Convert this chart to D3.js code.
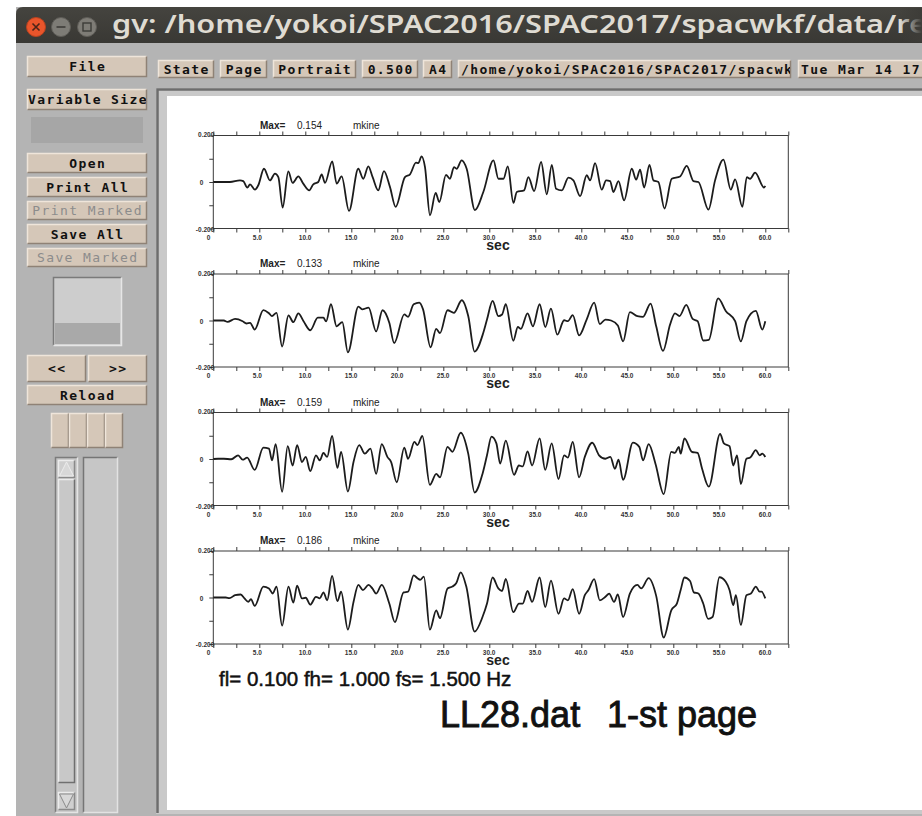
<!doctype html>
<html>
<head>
<meta charset="utf-8">
<script src="https://cdn.jsdelivr.net/npm/d3@7"></script>
<style>
  html, body { margin: 0; padding: 0; background: #fff; }
  svg { display: block; }
  .xw { font-family: "DejaVu Sans Mono", monospace; font-weight: bold; font-size: 13px; letter-spacing: 1.4px; }
  .ps { font-family: "Liberation Sans", Arial, sans-serif; }
</style>
</head>
<body>
<svg id="win" width="922" height="816"></svg>
<script>
// ---- data (time in sec, amplitude in mkine) ----
const timeTicks = d3.range(0, 62.5 + 1e-9, 2.5);
const ampTicks = [-0.2, -0.1, 0, 0.1, 0.2];
const maxLabels = ["0.154", "0.133", "0.159", "0.186"];

const trace1Time = [0,1.81,2.90,3.26,3.70,3.99,4.53,4.89,5.51,6.16,6.70,7.07,7.54,8.15,8.62,9.24,9.78,10.43,10.87,11.41,11.78,12.14,12.93,13.41,13.95,14.75,15.76,16.30,16.85,17.32,17.93,18.55,19.20,19.82,20.83,21.38,22.03,22.28,22.64,23.01,23.55,24.17,24.57,25.29,25.72,26.16,26.45,26.99,27.54,28.44,29.35,30.45,30.99,31.54,32.01,32.62,32.99,33.78,34.25,34.87,35.63,36.25,36.79,37.26,37.88,38.60,39.14,39.87,40.59,40.96,41.50,42.22,42.70,43.13,43.49,44.04,44.65,45.49,45.96,46.39,46.83,47.41,47.84,48.38,49.04,49.83,50.74,51.46,52.19,52.73,53.82,54.54,55.45,56.25,56.72,57.51,57.99,58.35,58.89,59.87,60.0];
const trace1Amp = [0,0,0.007,0.004,-0.024,-0.010,-0.033,-0.014,0.057,0.007,0.036,0.021,-0.110,0.046,-0.004,0.024,-0.007,-0.036,-0.010,0,0.033,-0.004,0.089,-0.007,0.024,-0.124,0.057,0.014,0.067,0.021,-0.036,0.047,-0.021,-0.107,0.021,0.033,0.083,0.081,0.110,0.064,-0.143,-0.047,-0.086,0.031,0.014,0.064,0.057,0.093,0.057,-0.121,-0.043,0.093,0.014,0.014,0.067,-0.090,-0.043,-0.036,0.021,-0.039,0.086,-0.053,0.074,-0.029,-0.036,0.019,0.007,-0.061,0.029,0.007,0.081,-0.033,0.007,0.004,-0.043,0.004,-0.079,0.057,0.010,0.053,-0.024,0.074,0.007,0,-0.114,0.014,0.024,0.069,0.004,0,-0.119,0.007,0.096,-0.033,0.011,-0.107,0.021,0.014,0.040,-0.024,-0.017];

const trace2Time = [0,1.14,1.55,2.37,3.19,3.60,4.00,4.50,5.44,6.05,6.38,6.87,7.48,8.17,8.70,9.24,9.81,10.54,11.36,11.97,12.26,12.79,13.40,14.02,14.63,15.77,16.18,16.88,17.70,18.39,19.13,19.66,20.76,21.17,21.78,22.39,22.80,23.62,24.23,24.64,25.46,26.15,27.01,27.71,28.40,29.34,29.75,30.36,30.98,31.39,31.79,32.61,33.10,33.43,34.16,34.74,35.47,36.09,36.70,37.39,38.13,38.54,39.07,39.76,40.58,41.40,42.01,42.62,43.24,43.97,44.54,45.28,46.10,46.71,47.53,48.14,48.88,49.65,50.18,50.67,51.41,52.10,52.64,53.25,53.86,54.88,55.70,56.72,57.34,57.95,58.97,59.67,60.0];
const trace2Amp = [0,0,-0.006,0.007,-0.003,-0.013,-0.010,-0.039,0.045,0.031,0.019,0.033,-0.112,0.022,-0.007,0.031,-0.003,-0.042,0.012,0.012,-0.004,0.070,-0.025,-0.007,-0.137,0.060,0.048,0.055,-0.047,0.044,-0.010,-0.097,0.026,0.016,0.070,0.077,0.048,-0.115,-0.036,-0.054,0.044,0.033,0.087,0.019,-0.134,-0.054,0.004,0.084,0.019,0.026,0.070,-0.087,-0.028,-0.036,0.031,-0.025,0.070,-0.028,0.051,-0.061,0.001,-0.003,0.023,-0.064,0.004,0.077,-0.015,0.004,0,-0.022,-0.090,0.036,0.019,0.016,0.073,-0.025,-0.131,-0.017,0.031,0.019,0.067,0.007,-0.003,-0.086,-0.083,0.095,0.041,-0.003,-0.090,-0.003,0.041,-0.039,-0.003];

const trace3Time = [0,0.53,1.14,1.96,2.70,3.19,3.68,4.50,5.44,6.05,6.38,6.78,7.48,8.09,8.62,9.11,9.64,10.05,10.54,11.16,11.57,11.97,12.38,12.91,13.49,13.89,14.63,15.24,15.86,16.47,17.08,17.70,18.31,18.92,19.33,19.94,20.76,21.17,21.86,22.19,22.72,23.54,24.23,24.64,25.46,25.99,26.89,27.71,28.40,29.26,29.75,30.24,30.77,31.18,31.79,32.69,33.22,33.63,34.16,34.65,35.47,36.08,36.78,37.52,38.13,38.54,39.07,39.76,40.38,41.19,41.93,42.62,43.16,43.65,44.05,44.54,45.61,46.30,46.71,47.32,48.06,48.96,49.78,50.18,50.59,50.80,51.21,52.02,52.64,53.13,53.86,55.09,55.50,56.11,56.52,56.93,57.34,57.95,58.36,58.97,59.38,59.67,60.0];
const trace3Amp = [0,0.001,0.001,-0.001,0.016,-0.003,0.006,-0.047,0.049,0.045,-0.006,0.064,-0.141,0.055,-0.028,0.060,-0.013,0.009,-0.052,0.016,-0.006,0.026,0.009,0.099,-0.038,0.031,-0.140,-0.013,0.060,0.023,0.045,-0.064,0.064,0.009,-0.013,-0.100,0.049,0.001,0.074,0.060,0.099,-0.111,-0.064,-0.079,0.052,0.031,0.113,0.023,-0.144,-0.064,0.016,0.096,0.067,-0.020,0.079,-0.068,-0.028,-0.032,0.033,-0.028,0.089,-0.047,0.067,-0.086,0.016,0.006,0.074,-0.079,0.009,0.070,0.016,0.001,0.009,-0.042,-0.003,-0.090,0.070,0.052,-0.006,0.064,-0.020,-0.151,0.031,0.026,0.052,0.023,0.089,0.031,0.026,-0.042,-0.119,0.108,0.067,0.055,-0.028,0.016,-0.108,0.001,0.006,0.038,0.016,0.023,0.009];

const trace4Time = [0,1.35,1.76,2.37,2.98,3.39,3.80,4.09,4.50,5.44,6.05,6.46,6.87,7.48,8.17,8.70,9.11,9.64,10.05,10.54,11.16,11.57,11.97,12.38,12.91,13.49,13.89,14.63,15.24,15.77,16.26,16.88,17.29,17.70,18.31,19.13,19.74,20.68,21.17,21.78,22.19,22.48,22.89,23.54,24.23,24.64,25.46,25.99,26.40,26.89,27.50,28.40,29.26,29.75,30.36,30.98,31.39,31.79,32.61,33.22,33.63,34.16,34.65,35.47,36.08,36.70,37.52,38.13,38.54,39.07,39.76,40.38,40.78,41.40,42.01,42.62,43.03,43.56,43.97,44.54,45.28,46.10,46.51,47.32,48.14,48.96,49.78,50.39,50.80,51.21,51.82,52.23,52.72,53.25,53.78,54.27,55.01,55.70,56.11,56.52,56.80,57.34,57.95,58.44,58.97,59.38,59.59,60.0];
const trace4Amp = [0,0,-0.003,0.010,0.013,-0.004,-0.019,-0.007,-0.036,0.047,0.039,0.017,0.047,-0.121,0.047,-0.022,0.051,-0.004,-0.001,-0.031,0.003,-0.004,0.022,-0.012,0.093,-0.016,0.025,-0.138,-0.019,0.054,0.032,0.054,0.039,0.017,0.054,-0.026,-0.106,0.022,0.025,0.095,0.083,0.076,0.090,-0.138,-0.055,-0.089,0.039,0.047,0.061,0.108,0.047,-0.147,-0.084,-0.026,0.086,0.039,0.028,0.080,-0.063,-0.026,-0.026,0.028,-0.019,0.086,-0.041,0.073,-0.070,-0.004,-0.012,0.036,-0.070,0.010,0.032,0.079,-0.012,0.003,0.017,-0.019,0.013,-0.084,0.017,0.054,0.039,0.083,0.007,-0.172,-0.055,-0.026,0.032,0.086,0.071,0.022,0.017,-0.026,-0.092,-0.084,0.087,0.068,0.032,-0.033,0.010,-0.118,0.010,0.017,0.047,0.025,0.025,-0.004];

const traces = [[trace1Time, trace1Amp], [trace2Time, trace2Amp], [trace3Time, trace3Amp], [trace4Time, trace4Amp]];

// ---- window chrome ----
const svg = d3.select("#win");
const BG = "#b4b4b4", FACE = "#d5c7b8", LIGHT = "#efe5da", DARK = "#8f8276";

svg.append("rect").attr("x", 16).attr("y", 7).attr("width", 906).attr("height", 809).attr("fill", BG);

// title bar
const defs = svg.append("defs");
const tg = defs.append("linearGradient").attr("id", "tb").attr("x1", 0).attr("y1", 0).attr("x2", 0).attr("y2", 1);
tg.append("stop").attr("offset", 0).attr("stop-color", "#45443f");
tg.append("stop").attr("offset", 1).attr("stop-color", "#393834");
const fade = defs.append("linearGradient").attr("id", "fade");
fade.append("stop").attr("offset", 0).attr("stop-color", "#3d3c38").attr("stop-opacity", 0);
fade.append("stop").attr("offset", 1).attr("stop-color", "#3d3c38").attr("stop-opacity", 1);

svg.append("path").attr("d", "M16,43V14Q16,7 23,7H922V43Z").attr("fill", "url(#tb)");
svg.append("circle").attr("cx", 36).attr("cy", 27).attr("r", 9.5).attr("fill", "#e9552b").attr("stroke", "#b8421f");
svg.append("path").attr("d", "M32.5,23.5L39.5,30.5M39.5,23.5L32.5,30.5").attr("stroke", "#4a2418").attr("stroke-width", 1.6);
svg.append("circle").attr("cx", 61).attr("cy", 27).attr("r", 9.5).attr("fill", "#7e7c76").attr("stroke", "#5f5d58");
svg.append("path").attr("d", "M56.5,27H65.5").attr("stroke", "#3d3c38").attr("stroke-width", 1.6);
svg.append("circle").attr("cx", 87).attr("cy", 27).attr("r", 9.5).attr("fill", "#7e7c76").attr("stroke", "#5f5d58");
svg.append("rect").attr("x", 83).attr("y", 23).attr("width", 8).attr("height", 8).attr("fill", "none").attr("stroke", "#3d3c38").attr("stroke-width", 1.4);
svg.append("text").attr("x", 112).attr("y", 33)
  .attr("font-family", "Noto Sans, DejaVu Sans, sans-serif").attr("font-size", 25).attr("font-weight", 600)
  .attr("fill", "#dfdbd2").attr("textLength", 815).attr("lengthAdjust", "spacingAndGlyphs")
  .text("gv: /home/yokoi/SPAC2016/SPAC2017/spacwkf/data/re");
svg.append("rect").attr("x", 900).attr("y", 8).attr("width", 22).attr("height", 34).attr("fill", "url(#fade)");

function bevel(g, x, y, w, h, fill, light, dark) {
  g.append("rect").attr("x", x).attr("y", y).attr("width", w).attr("height", h).attr("fill", fill);
  g.append("path").attr("d", `M${x + 0.5},${y + h - 0.5}V${y + 0.5}H${x + w - 0.5}`).attr("fill", "none").attr("stroke", light).attr("stroke-width", 1.5);
  g.append("path").attr("d", `M${x + 0.5},${y + h - 0.5}H${x + w - 0.5}V${y + 0.5}`).attr("fill", "none").attr("stroke", dark).attr("stroke-width", 1.5);
}

let clipId = 0;
function button(x, y, w, h, label, opts = {}) {
  const g = svg.append("g");
  bevel(g, x, y, w, h, FACE, LIGHT, DARK);
  const id = "clip" + (clipId++);
  defs.append("clipPath").attr("id", id).append("rect").attr("x", x + 1).attr("y", y).attr("width", w - 2).attr("height", h);
  const t = g.append("text").attr("class", "xw").attr("clip-path", `url(#${id})`)
    .attr("y", y + h / 2 + 4.5).attr("fill", opts.disabled ? "#8c8c8c" : "#111")
    .text(label);
  if (opts.disabled) t.style("font-weight", "normal");
  if (opts.anchor === "start") t.attr("x", x + 3);
  else if (opts.anchor === "end") t.attr("x", x + w + 1).attr("text-anchor", "end");
  else t.attr("x", x + w / 2 + 0.7).attr("text-anchor", "middle");
  return g;
}

// toolbar
button(27, 56, 120, 21, "File");
button(158, 60, 56, 18, "State");
button(220, 60, 47, 18, "Page");
button(273, 60, 83, 18, "Portrait");
button(362, 60, 56, 18, "0.500");
button(423, 60, 29, 18, "A4");
button(458, 60, 333, 18, "/home/yokoi/SPAC2016/SPAC2017/spacwkf/data/res", { anchor: "start" });
button(798, 60, 130, 18, "Tue Mar 14 17:05:12 2017", { anchor: "start" });

// left column
button(27, 89, 120, 21, "Variable Size", { anchor: "end" });
svg.append("rect").attr("x", 31).attr("y", 117).attr("width", 112).attr("height", 26).attr("fill", "#a6a6a6");
button(27, 153, 120, 20, "Open");
button(27, 177, 120, 20, "Print All");
button(27, 201, 120, 19, "Print Marked", { disabled: true });
button(27, 224, 120, 20, "Save All");
button(27, 248, 120, 19, "Save Marked", { disabled: true });

// panner
const pan = svg.append("g");
bevel(pan, 53, 277, 69, 69, "#cdcdcd", "#7a7a7a", "#e6e6e6");
pan.append("rect").attr("x", 55).attr("y", 323).attr("width", 65).attr("height", 21).attr("fill", "#a9a9a9");

button(27, 355, 59, 27, "<<");
button(88, 355, 59, 27, ">>");
button(27, 385, 120, 20, "Reload");
[51, 69, 87, 105].forEach(bx => { const g = svg.append("g"); bevel(g, bx, 413, 18, 35, FACE, LIGHT, DARK); });

// scrollbars
const sb = svg.append("g");
bevel(sb, 55, 457, 23, 356, "#c4c4c4", "#7c7c7c", "#e4e4e4");
bevel(sb, 58, 460, 17, 18, "#cfcfcf", "#ececec", "#8a8a8a");
sb.append("path").attr("d", "M59.5,476L66.5,462L73.5,476Z").attr("fill", "#d8d8d8").attr("stroke", "#ececec");
bevel(sb, 58, 479, 17, 304, "#c8c8c8", "#ececec", "#6f6f6f");
bevel(sb, 58, 792, 17, 18, "#cfcfcf", "#ececec", "#8a8a8a");
sb.append("path").attr("d", "M59.5,794L66.5,808L73.5,794Z").attr("fill", "#d8d8d8").attr("stroke", "#8a8a8a");
bevel(sb, 83, 457, 35, 356, "#c6c6c6", "#757575", "#e2e2e2");

// viewport
svg.append("rect").attr("x", 156).attr("y", 88).attr("width", 770).attr("height", 726).attr("fill", "#c9c9c9");
svg.append("path").attr("d", "M157.5,813V89.5H922").attr("fill", "none").attr("stroke", "#6d6d6d").attr("stroke-width", 2.5);
svg.append("rect").attr("x", 167).attr("y", 96).attr("width", 760).attr("height", 714).attr("fill", "#fff");
defs.append("clipPath").attr("id", "pageclip").append("rect").attr("x", 167).attr("y", 96).attr("width", 760).attr("height", 714);

// ---- the seismogram page ----
const page = svg.append("g").attr("clip-path", "url(#pageclip)");
const x = d3.scaleLinear().domain([0, 62.5]).range([213.3, 788.3]);
const line = d3.line().curve(d3.curveMonotoneX);
const panelTop0 = 135.5, panelStep = 138.5, panelH = 93;

traces.forEach(([times, amps], i) => {
  const top = panelTop0 + panelStep * i, bottom = top + panelH;
  const y = d3.scaleLinear().domain([-0.2, 0.2]).range([bottom, top]);
  const g = page.append("g").attr("class", "ps");

  g.append("rect").attr("x", x(0)).attr("y", top).attr("width", x(62.5) - x(0)).attr("height", panelH)
    .attr("fill", "none").attr("stroke", "#3a3a3a").attr("stroke-width", 1);

  const fmt = d => d % 5 !== 0 ? "" : (d === 0 ? "0" : d.toFixed(1));
  const xb = g.append("g").attr("transform", `translate(0,${bottom})`)
    .call(d3.axisBottom(x).tickValues(timeTicks).tickSize(4).tickSizeOuter(0).tickFormat(fmt));
  xb.select(".domain").remove();
  xb.attr("font-family", null).attr("font-size", 6.5).attr("font-weight", "bold").attr("color", "#3a3a3a");
  xb.selectAll("text").attr("y", 11).attr("dy", null).attr("x", -7).attr("text-anchor", "start").attr("fill", "#333");

  const xt = g.append("g").attr("transform", `translate(0,${top})`)
    .call(d3.axisTop(x).tickValues(timeTicks).tickSize(4).tickSizeOuter(0).tickFormat(""));
  xt.select(".domain").remove();
  xt.attr("color", "#3a3a3a");

  const yl = g.append("g").attr("transform", `translate(${x(0)},0)`)
    .call(d3.axisLeft(y).tickValues(ampTicks).tickSize(4).tickSizeOuter(0)
      .tickFormat(d => Math.abs(d) === 0.2 ? d.toFixed(3) : (d === 0 ? "0" : "")));
  yl.select(".domain").remove();
  yl.attr("font-family", null).attr("font-size", 6.5).attr("font-weight", "bold").attr("color", "#3a3a3a");
  yl.selectAll("text").attr("dy", null).attr("fill", "#333")
    .attr("x", d => d === 0 ? -10 : 1)
    .attr("y", d => d > 0 ? 1 : 2.5);

  // header
  g.append("text").attr("x", 260).attr("y", top - 7).attr("font-size", 10).attr("font-weight", "bold").attr("fill", "#222").text("Max=");
  g.append("text").attr("x", 297).attr("y", top - 7).attr("font-size", 10).attr("fill", "#222").text(maxLabels[i]);
  g.append("text").attr("x", 353).attr("y", top - 7).attr("font-size", 10).attr("fill", "#222").text("mkine");
  g.append("text").attr("x", 498).attr("y", bottom + 21).attr("text-anchor", "middle")
    .attr("font-size", 14).attr("font-weight", "bold").attr("fill", "#222").text("sec");

  // trace
  const pts = d3.zip(times, amps).map(([t, v]) => [x(t), y(v)]);
  g.append("path").attr("d", line(pts)).attr("fill", "none").attr("stroke", "#1c1c1c")
    .attr("stroke-width", 1.8).attr("stroke-linejoin", "round");
});

page.append("text").attr("class", "ps").attr("x", 219).attr("y", 686).attr("font-size", 20.5).attr("fill", "#111")
  .attr("stroke", "#111").attr("stroke-width", 0.5)
  .text("fl= 0.100 fh= 1.000 fs= 1.500 Hz");
page.append("text").attr("class", "ps").attr("x", 440).attr("y", 727).attr("font-size", 36).attr("fill", "#111")
  .attr("stroke", "#111").attr("stroke-width", 0.9)
  .text("LL28.dat");
page.append("text").attr("class", "ps").attr("x", 607).attr("y", 727).attr("font-size", 36).attr("fill", "#111")
  .attr("stroke", "#111").attr("stroke-width", 0.9)
  .text("1-st page");
</script>
</body>
</html>
